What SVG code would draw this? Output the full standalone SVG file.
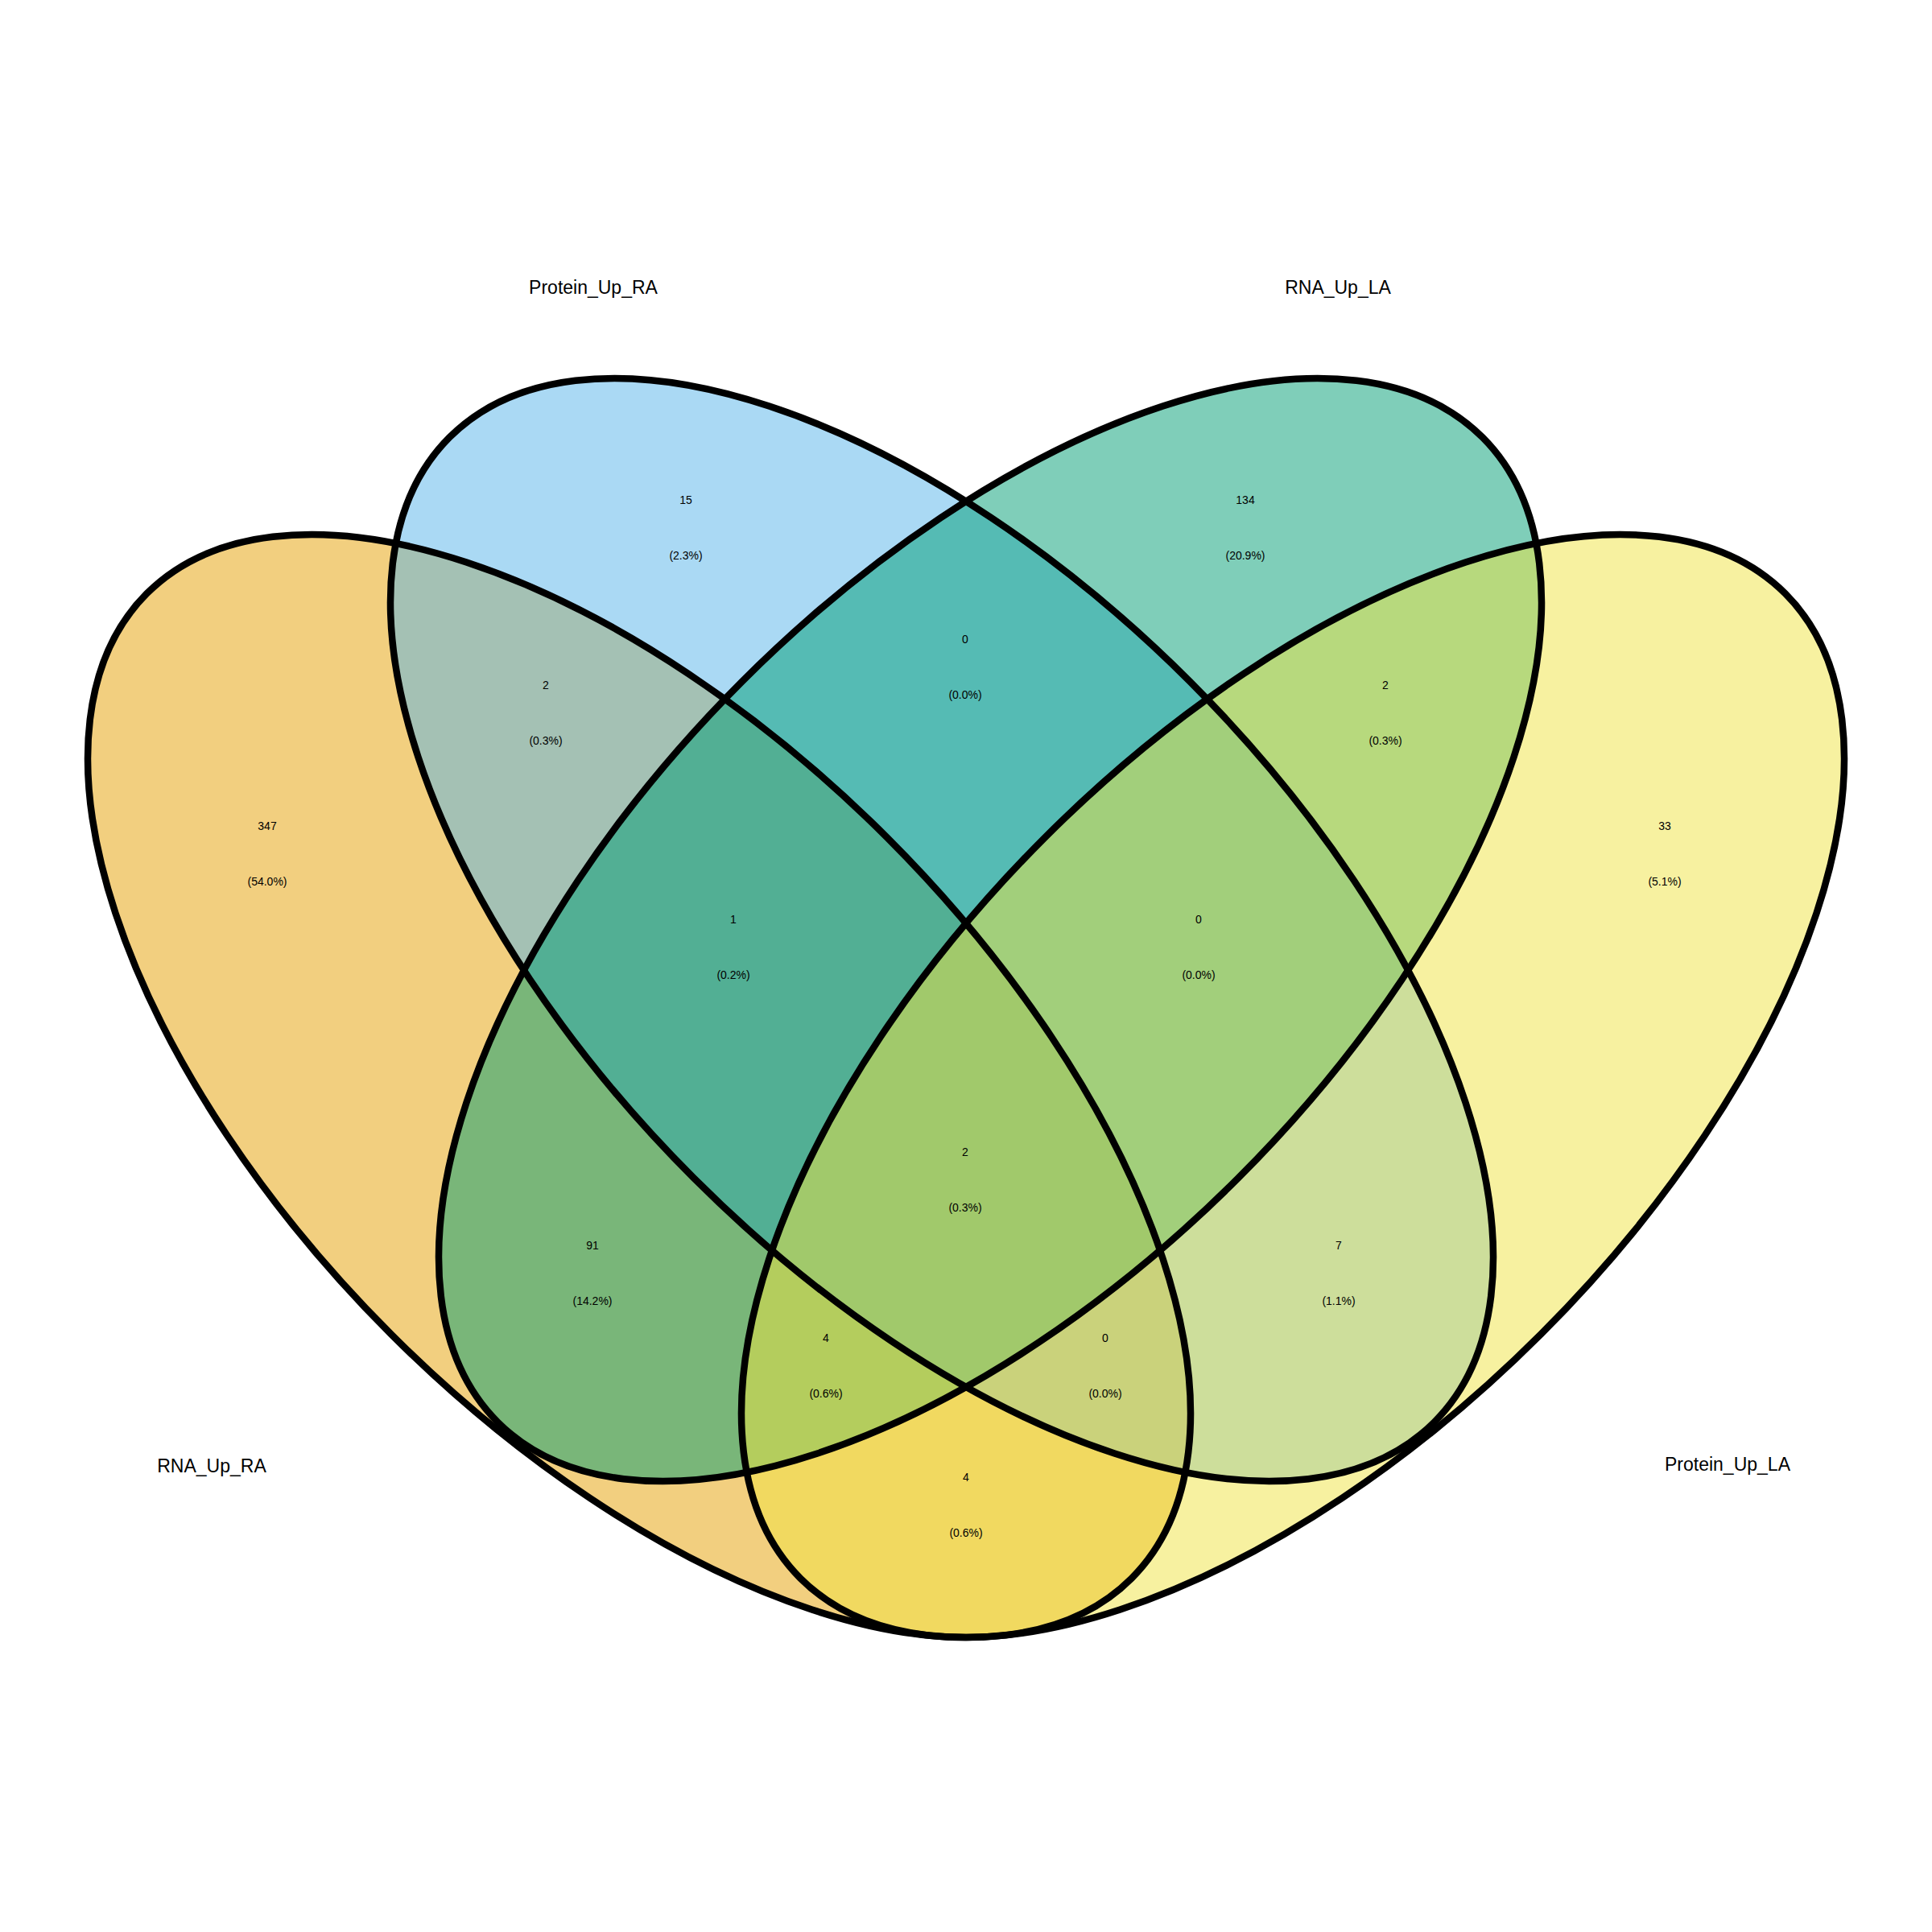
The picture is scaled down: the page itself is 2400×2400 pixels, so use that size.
<svg xmlns="http://www.w3.org/2000/svg" width="2400" height="2400" viewBox="0 0 2400 2400">
<style>
.fill{fill-opacity:0.5;stroke:none}
.outline{fill:none;stroke:#000;stroke-width:8.5}
.name{font-family:"Liberation Sans",Arial,sans-serif;font-size:23px;fill:#000;text-anchor:middle}
.cnt{font-family:"Liberation Sans",Arial,sans-serif;font-size:14px;fill:#000;text-anchor:middle}
</style>
<rect x="0" y="0" width="2400" height="2400" fill="#fff"/>
<g id="set-RNA_Up_RA">
<ellipse class="fill" cx="794" cy="1349" rx="865" ry="436" transform="rotate(45 794 1349)" fill="#E69F00"/>
<text class="name" x="263" y="1829">RNA_Up_RA</text>
</g>
<g id="set-Protein_Up_RA">
<ellipse class="fill" cx="1170" cy="1155" rx="865" ry="436" transform="rotate(45 1170 1155)" fill="#56B4E9"/>
<text class="name" x="737" y="365">Protein_Up_RA</text>
</g>
<g id="set-RNA_Up_LA">
<ellipse class="fill" cx="1230" cy="1155" rx="865" ry="436" transform="rotate(-45 1230 1155)" fill="#009E73"/>
<text class="name" x="1662" y="365">RNA_Up_LA</text>
</g>
<g id="set-Protein_Up_LA">
<ellipse class="fill" cx="1606" cy="1349" rx="865" ry="436" transform="rotate(-45 1606 1349)" fill="#F0E442"/>
<text class="name" x="2146" y="1827">Protein_Up_LA</text>
</g>
<g id="outlines">
<ellipse class="outline" cx="794" cy="1349" rx="865" ry="436" transform="rotate(45 794 1349)"/>
<ellipse class="outline" cx="1170" cy="1155" rx="865" ry="436" transform="rotate(45 1170 1155)"/>
<ellipse class="outline" cx="1230" cy="1155" rx="865" ry="436" transform="rotate(-45 1230 1155)"/>
<ellipse class="outline" cx="1606" cy="1349" rx="865" ry="436" transform="rotate(-45 1606 1349)"/>
</g>
<g id="counts">
<text class="cnt" x="852" y="626">15</text><text class="cnt" x="852" y="695">(2.3%)</text>
<text class="cnt" x="1547" y="626">134</text><text class="cnt" x="1547" y="695">(20.9%)</text>
<text class="cnt" x="1199" y="799">0</text><text class="cnt" x="1199" y="868">(0.0%)</text>
<text class="cnt" x="678" y="856">2</text><text class="cnt" x="678" y="925">(0.3%)</text>
<text class="cnt" x="1721" y="856">2</text><text class="cnt" x="1721" y="925">(0.3%)</text>
<text class="cnt" x="332" y="1031">347</text><text class="cnt" x="332" y="1100">(54.0%)</text>
<text class="cnt" x="2068" y="1031">33</text><text class="cnt" x="2068" y="1100">(5.1%)</text>
<text class="cnt" x="911" y="1147">1</text><text class="cnt" x="911" y="1216">(0.2%)</text>
<text class="cnt" x="1489" y="1147">0</text><text class="cnt" x="1489" y="1216">(0.0%)</text>
<text class="cnt" x="1199" y="1436">2</text><text class="cnt" x="1199" y="1505">(0.3%)</text>
<text class="cnt" x="736" y="1552">91</text><text class="cnt" x="736" y="1621">(14.2%)</text>
<text class="cnt" x="1663" y="1552">7</text><text class="cnt" x="1663" y="1621">(1.1%)</text>
<text class="cnt" x="1026" y="1667">4</text><text class="cnt" x="1026" y="1736">(0.6%)</text>
<text class="cnt" x="1373" y="1667">0</text><text class="cnt" x="1373" y="1736">(0.0%)</text>
<text class="cnt" x="1200" y="1840">4</text><text class="cnt" x="1200" y="1909">(0.6%)</text>
</g>
</svg>
